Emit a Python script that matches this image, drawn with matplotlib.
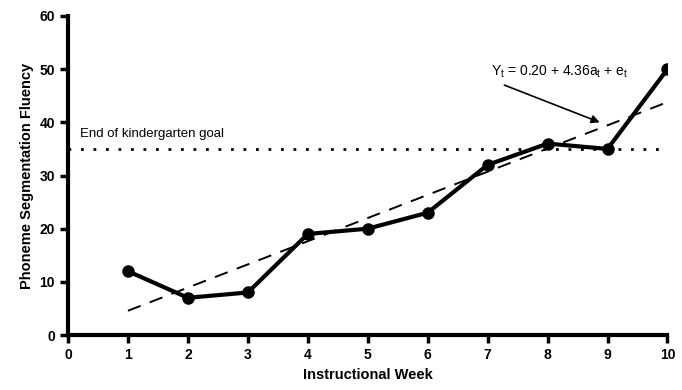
import matplotlib.pyplot as plt

plt.rcParams['font.family'] = ['Liberation Sans', 'DejaVu Sans']

weeks = [1, 2, 3, 4, 5, 6, 7, 8, 9, 10]
fluency = [12, 7, 8, 19, 20, 23, 32, 36, 35, 50]
trend_x = [1, 10]
trend_y = [4.56, 43.8]
goal = 35
xticks = list(range(0, 11))
yticks = list(range(0, 61, 10))

fig = plt.figure(figsize=(6.82, 3.9), dpi=100)
ax = fig.add_axes([0.0997, 0.141, 0.879, 0.818])

ax.plot([0, 10], [goal, goal], color='black', linestyle=(0, (1, 3.5)), linewidth=2)
ax.plot(trend_x, trend_y, color='black', linestyle=(0, (7, 5)), linewidth=1.4)
ax.plot(weeks, fluency, color='black', linewidth=3, marker='o', markersize=8)

ax.text(0.2, 37.3, 'End of kindergarten goal', fontsize=9.5)
ax.text(8.2, 49.5, 'Y$_\\mathregular{t}$ = 0.20 + 4.36a$_\\mathregular{t}$ + e$_\\mathregular{t}$',
        ha='center', va='center', fontsize=10)
ax.annotate('', xy=(8.87, 40), xytext=(7.28, 47.0),
            arrowprops=dict(arrowstyle='-|>', color='black', lw=1.2, shrinkA=0, shrinkB=0,
                            mutation_scale=12))

ax.set_xlim(0, 10)
ax.set_ylim(0, 60)
ax.set_xticks(xticks)
ax.set_yticks(yticks)
for lbl in ax.get_xticklabels() + ax.get_yticklabels():
    lbl.set_fontweight('bold')
ax.tick_params(width=2.5, length=6, labelsize=10)
ax.spines['top'].set_visible(False)
ax.spines['right'].set_visible(False)
ax.spines['left'].set_linewidth(3)
ax.spines['bottom'].set_linewidth(3)
ax.set_xlabel('Instructional Week', fontsize=10.5, fontweight='bold')
ax.set_ylabel('Phoneme Segmentation Fluency', fontsize=10.5, fontweight='bold')

plt.savefig('out.png', dpi=100)
